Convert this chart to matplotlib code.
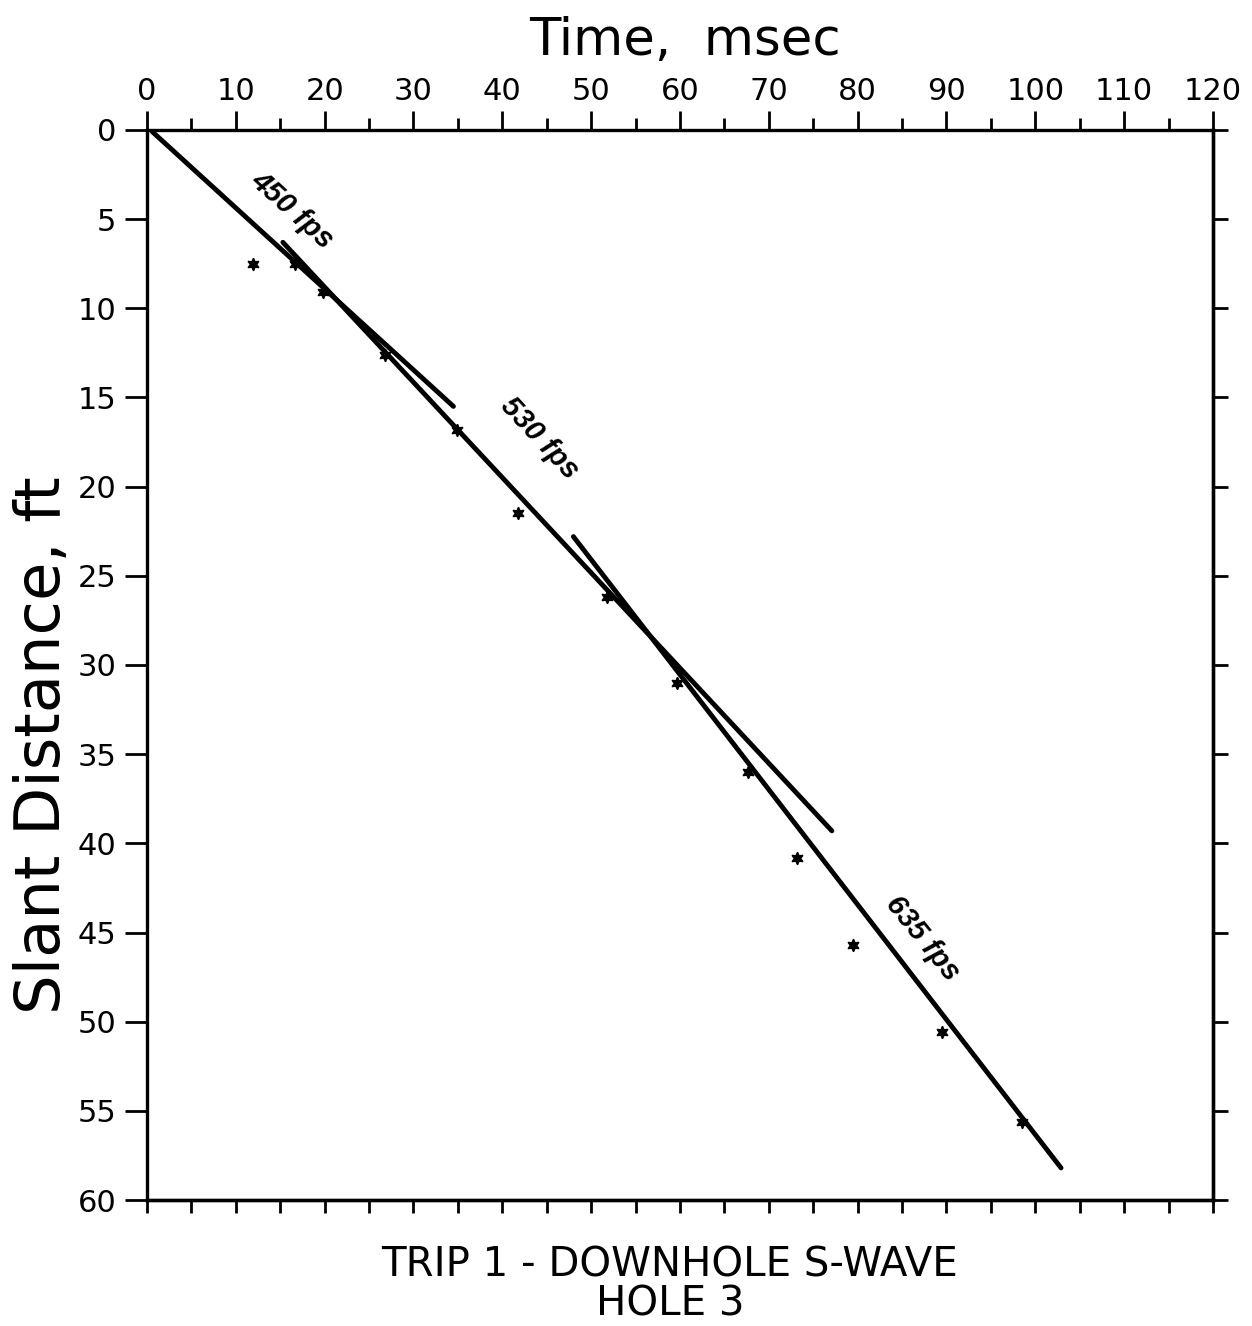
import matplotlib
matplotlib.use('Agg')
import matplotlib.pyplot as plt

# Picked arrivals (time in msec, slant distance in ft)
time_ms = [11.9, 16.7, 19.8, 26.8, 34.9, 41.8, 51.8, 59.7, 67.7, 73.2, 79.5, 89.5, 98.5]
slant_ft = [7.5, 7.5, 9.1, 12.6, 16.8, 21.5, 26.2, 31.0, 36.0, 40.8, 45.7, 50.6, 55.6]

# Fitted velocity segments: end points (time, distance)
seg_labels = ['450 fps', '530 fps', '635 fps']
seg_time = [[0.6, 34.5], [15.3, 77.1], [48.0, 102.9]]
seg_dist = [[0.1, 15.5], [6.3, 39.3], [22.8, 58.2]]
label_time = [16.4, 44.2, 87.3]
label_dist = [4.5, 17.3, 45.3]
label_rot = [-42, -47, -51]

x_ticks = list(range(0, 121, 10))
y_ticks = list(range(0, 61, 5))

fig = plt.figure(figsize=(12.52, 13.26), dpi=100)
ax = fig.add_axes([0.1174, 0.095, 0.8514, 0.807])

# velocity lines
for t, d in zip(seg_time, seg_dist):
    ax.plot(t, d, color='black', lw=3.5, solid_capstyle='round')

# data points
ax.plot(time_ms, slant_ft, linestyle='none', marker=(6, 1, 0), markersize=9,
        color='black')

for lab, tx, ty, rot in zip(seg_labels, label_time, label_dist, label_rot):
    ax.text(tx, ty, lab, rotation=rot, rotation_mode='anchor', ha='center',
            va='center', fontsize=21, fontweight='bold', fontstyle='italic',
            family='Liberation Sans')

ax.set_xlim(0, 120)
ax.set_ylim(60, 0)

# top axis: labelled every 10, minor every 5
ax.xaxis.tick_top()
ax.set_xticks(x_ticks)
ax.set_xticks(range(5, 120, 10), minor=True)
ax.tick_params(axis='x', which='major', direction='out', length=14, width=2,
               labelsize=22, pad=3)
ax.tick_params(axis='x', which='minor', direction='out', length=8.5, width=2)

ax.set_yticks(y_ticks)
ax.tick_params(axis='y', which='major', direction='out', length=16, width=2,
               labelsize=22, pad=6)

# bottom and right ticks without labels
bx = ax.secondary_xaxis('bottom')
bx.set_xticks(range(0, 121, 5))
bx.tick_params(direction='out', length=9, width=2, labelbottom=False)
ry = ax.secondary_yaxis('right')
ry.set_yticks(y_ticks)
ry.tick_params(direction='out', length=11, width=2, labelright=False)

for sp in ax.spines.values():
    sp.set_linewidth(2.4)
for sp in bx.spines.values():
    sp.set_linewidth(2.4)
for sp in ry.spines.values():
    sp.set_linewidth(2.4)

fig.text(0.547, 0.969, 'Time,  msec', ha='center', va='center', fontsize=37)
fig.text(0.034, 0.438, 'Slant Distance, ft', rotation=90, ha='center',
         va='center', fontsize=45)
fig.text(0.535, 0.031, 'TRIP 1 - DOWNHOLE S-WAVE\nHOLE 3', ha='center',
         va='center', multialignment='center', linespacing=0.95, fontsize=29)

fig.savefig('out.png', dpi=100)
